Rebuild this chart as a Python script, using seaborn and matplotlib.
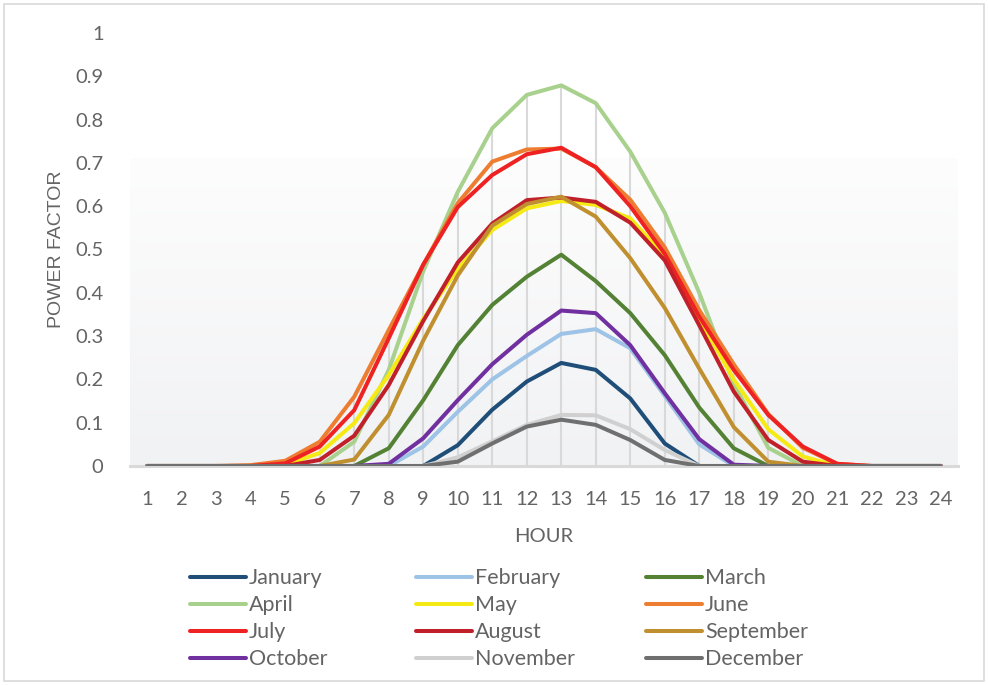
import numpy as np
import pandas as pd
import matplotlib
matplotlib.use("Agg")
import matplotlib.pyplot as plt
from matplotlib.patches import Rectangle
import seaborn as sns

hours = list(range(1, 25))
months = ["January", "February", "March", "April", "May", "June",
          "July", "August", "September", "October", "November", "December"]

january   = [0, 0, 0, 0, 0, 0, 0, 0, 0, 0.048, 0.130, 0.195, 0.238, 0.222, 0.156, 0.052, 0, 0, 0, 0, 0, 0, 0, 0]
february  = [0, 0, 0, 0, 0, 0, 0, 0, 0.045, 0.125, 0.200, 0.254, 0.305, 0.316, 0.272, 0.162, 0.050, 0, 0, 0, 0, 0, 0, 0]
march     = [0, 0, 0, 0, 0, 0, 0, 0.041, 0.152, 0.279, 0.372, 0.437, 0.488, 0.427, 0.353, 0.256, 0.135, 0.041, 0, 0, 0, 0, 0, 0]
april     = [0, 0, 0, 0, 0, 0, 0.056, 0.222, 0.450, 0.633, 0.780, 0.857, 0.879, 0.838, 0.726, 0.585, 0.400, 0.190, 0.042, 0, 0, 0, 0, 0]
may       = [0, 0, 0, 0, 0.003, 0.030, 0.099, 0.210, 0.340, 0.455, 0.545, 0.595, 0.612, 0.603, 0.572, 0.485, 0.340, 0.200, 0.085, 0.022, 0, 0, 0, 0]
june      = [0, 0, 0, 0.002, 0.012, 0.056, 0.160, 0.314, 0.465, 0.607, 0.703, 0.731, 0.733, 0.690, 0.615, 0.505, 0.360, 0.235, 0.120, 0.042, 0.005, 0, 0, 0]
july      = [0, 0, 0, 0, 0.006, 0.045, 0.129, 0.295, 0.465, 0.598, 0.672, 0.720, 0.735, 0.690, 0.600, 0.490, 0.345, 0.222, 0.118, 0.045, 0.005, 0, 0, 0]
august    = [0, 0, 0, 0, 0, 0.014, 0.070, 0.187, 0.335, 0.470, 0.560, 0.614, 0.620, 0.610, 0.562, 0.475, 0.325, 0.172, 0.060, 0.010, 0, 0, 0, 0]
september = [0, 0, 0, 0, 0, 0, 0.015, 0.118, 0.290, 0.440, 0.555, 0.605, 0.622, 0.576, 0.480, 0.365, 0.225, 0.090, 0.010, 0, 0, 0, 0, 0]
october   = [0, 0, 0, 0, 0, 0, 0, 0.005, 0.064, 0.152, 0.235, 0.303, 0.359, 0.353, 0.279, 0.168, 0.062, 0.003, 0, 0, 0, 0, 0, 0]
november  = [0, 0, 0, 0, 0, 0, 0, 0, 0, 0.020, 0.057, 0.095, 0.118, 0.117, 0.085, 0.037, 0, 0, 0, 0, 0, 0, 0, 0]
december  = [0, 0, 0, 0, 0, 0, 0, 0, 0, 0.010, 0.052, 0.091, 0.107, 0.095, 0.060, 0.014, 0, 0, 0, 0, 0, 0, 0, 0]

series = [january, february, march, april, may, june,
          july, august, september, october, november, december]

colors = ["#1f4e79", "#9dc3e6", "#548235", "#a9d18e", "#f5ea14", "#ed7d31",
          "#ee2222", "#c0202a", "#c09030", "#7030a0", "#d0d0d0", "#6f6f6f"]

y_ticks = [0, 0.1, 0.2, 0.3, 0.4, 0.5, 0.6, 0.7, 0.8, 0.9, 1]
y_tick_labels = ["0", "0.1", "0.2", "0.3", "0.4", "0.5", "0.6", "0.7", "0.8", "0.9", "1"]

df = pd.DataFrame({
    "hour": np.tile(hours, len(months)),
    "month": np.repeat(months, len(hours)),
    "value": np.concatenate(series),
})

sns.set_theme(style="white")
plt.rcParams["font.family"] = ["Lato", "DejaVu Sans"]
text_color = "#646464"

W, H = 988, 685
fig = plt.figure(figsize=(W / 100, H / 100), dpi=100)
fig.patch.set_facecolor("white")

# plot area in pixel terms
left, right, top, bottom = 130, 958, 33, 466
ax = fig.add_axes([left / W, 1 - bottom / H, (right - left) / W, (bottom - top) / H])
ax.set_facecolor("white")

# soft grey gradient behind the lower part of the plot area
grad = np.linspace(0, 1, 256).reshape(-1, 1)
c_top = np.array(matplotlib.colors.to_rgb("#fdfdfd"))
c_bot = np.array(matplotlib.colors.to_rgb("#f1f2f4"))
img = c_top + (c_bot - c_top) * grad[..., None]
ax.imshow(img, extent=(0.5, 24.5, 0, 0.71), aspect="auto", zorder=0, origin="upper")

# drop lines from the highest value at each hour
peak = np.max(np.array(series), axis=0)
ax.vlines(hours, 0, peak, colors="#d9d9d9", linewidth=1.5, zorder=1)

sns.lineplot(data=df, x="hour", y="value", hue="month", hue_order=months,
             palette=dict(zip(months, colors)), linewidth=2.9, legend=False,
             ax=ax, zorder=3, solid_joinstyle="round", solid_capstyle="round")

ax.set_xlim(0.5, 24.5)
ax.set_ylim(0, 1)
for s in ["top", "right", "left"]:
    ax.spines[s].set_visible(False)
ax.spines["bottom"].set_color("#d9d9d9")
ax.spines["bottom"].set_linewidth(2.2)
ax.spines["bottom"].set_zorder(2)

ax.set_xticks(hours)
ax.set_xticklabels([str(h) for h in hours])
ax.set_yticks(y_ticks)
ax.set_yticklabels(y_tick_labels)
ax.tick_params(axis="both", length=0, labelsize=14.5, colors=text_color)
ax.tick_params(axis="x", pad=18)
ax.tick_params(axis="y", pad=19)

ax.set_xlabel("HOUR", fontsize=14.5, color=text_color, va="center")
ax.xaxis.set_label_coords(0.5, -(536 - bottom) / (bottom - top))
ax.set_ylabel("POWER FACTOR", fontsize=14, color=text_color, va="center",
              family=["Liberation Sans", "DejaVu Sans"])
ax.yaxis.set_label_coords((57 - left) / (right - left), 0.5)

# legend: three columns of four, row-major month order
lines = ax.get_lines()
col_x = [190, 416, 646]
for c in range(3):
    idx = [c, c + 3, c + 6, c + 9]
    leg = fig.legend([lines[i] for i in idx], [months[i] for i in idx],
                     loc="upper left", bbox_to_anchor=(col_x[c] / W, 1 - 568.5 / H),
                     frameon=False, fontsize=15.5, handlelength=2.6,
                     handletextpad=0.14, labelspacing=0.32, borderpad=0,
                     borderaxespad=0, labelcolor=text_color)
    for ln in leg.get_lines():
        ln.set_linewidth(2.9)
        ln.set_solid_capstyle("round")

# outer chart border
fig.patches.append(Rectangle((4 / W, 4 / H), (W - 8) / W, (H - 8) / H,
                             transform=fig.transFigure, fill=False,
                             edgecolor="#d9d9d9", linewidth=1.2))

fig.savefig("out.png", dpi=100, facecolor="white")
